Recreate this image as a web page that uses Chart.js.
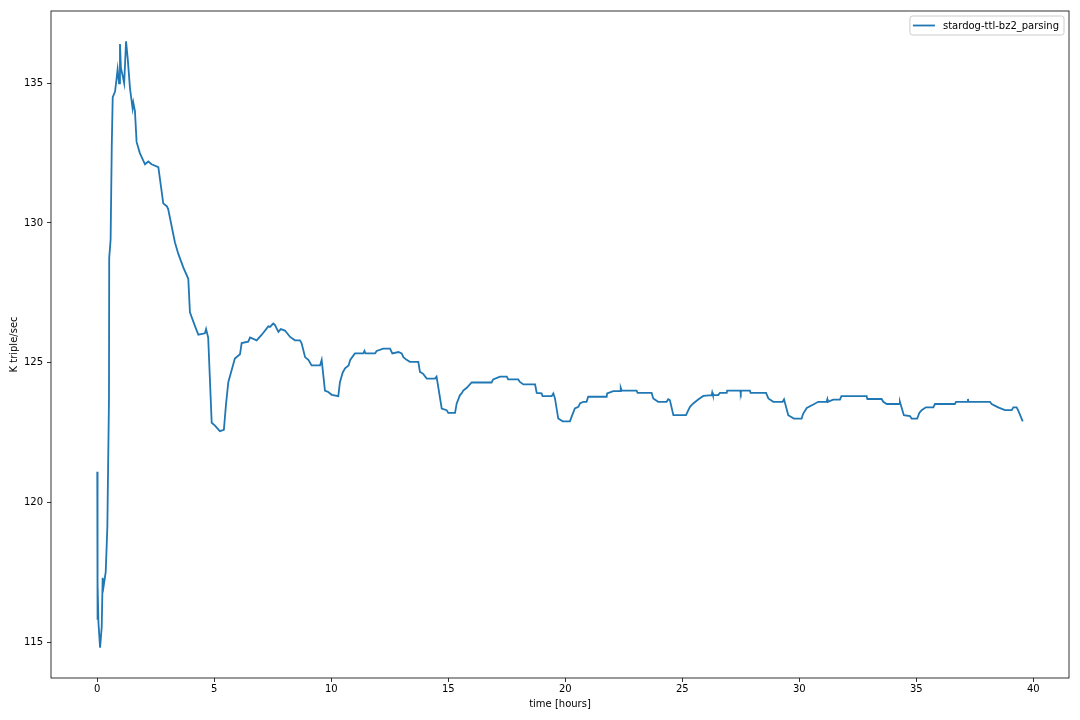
<!DOCTYPE html>
<html>
<head>
<meta charset="utf-8">
<script src="https://cdn.jsdelivr.net/npm/chart.js@4.4.1/dist/chart.umd.min.js"></script>
<style>
html, body { margin: 0; padding: 0; background: #ffffff; }
canvas { display: block; }
</style>
</head>
<body>
<canvas id="c" width="1080" height="720"></canvas>
<script>
// ---- data ----
const seriesLabel = 'stardog-ttl-bz2_parsing';
const xTitle = 'time [hours]';
const yTitle = 'K triple/sec';
const xTicks = [0, 5, 10, 15, 20, 25, 30, 35, 40];
const yTicks = [115, 120, 125, 130, 135];

const hours = [
  0, 0.005, 0.02, 0.05, 0.12, 0.19, 0.23, 0.27, 0.36, 0.43, 0.50,
  0.51, 0.57, 0.62, 0.66, 0.76, 0.83, 0.87, 0.93, 0.97, 1.01, 1.09, 1.15, 1.23,
  1.30, 1.40, 1.51, 1.54, 1.61, 1.68, 1.82, 2.04, 2.18, 2.32, 2.61, 2.82,
  2.97, 3.03, 3.32, 3.46, 3.68, 3.89, 3.96, 4.18, 4.32, 4.60, 4.65, 4.74,
  4.89, 5.03, 5.24, 5.41, 5.50, 5.60, 5.88, 6.10, 6.17, 6.45, 6.53, 6.81, 7.03, 7.31,
  7.38, 7.52, 7.59, 7.74, 7.84, 8.02, 8.24, 8.45, 8.66, 8.73, 8.88, 9.02, 9.16, 9.52,
  9.59, 9.73, 9.87, 10.02, 10.30, 10.37, 10.49, 10.59, 10.74, 10.81, 11.01, 11.37, 11.42,
  11.46, 11.87, 11.94, 12.22, 12.51, 12.61, 12.87, 13.01, 13.08, 13.22, 13.36, 13.72, 13.79,
  13.93, 14.08, 14.43, 14.50, 14.72, 14.93, 15.00, 15.29, 15.36, 15.50, 15.57, 15.64, 15.79,
  16.00, 16.85, 16.92, 17.21, 17.50, 17.56, 17.99, 18.06, 18.21, 18.71, 18.78, 18.99, 19.03,
  19.42, 19.49, 19.56, 19.70, 19.89, 20.20, 20.27, 20.41, 20.56, 20.63, 20.77, 20.91, 20.98, 21.77,
  21.79, 22.05, 22.34, 22.37, 22.41, 23.05, 23.09, 23.69, 23.76, 23.97, 24.33, 24.40, 24.47,
  24.62, 25.16, 25.26, 25.33, 25.47, 25.68, 25.90, 26.26, 26.28, 26.31, 26.54, 26.61, 26.90,
  26.92, 27.47, 27.50, 27.52, 27.89, 27.92, 28.58, 28.68, 28.89, 29.29, 29.35, 29.53, 29.77,
  30.10, 30.17, 30.32, 30.60, 30.81, 31.17, 31.20, 31.22, 31.45, 31.74, 31.80, 32.88, 32.91,
  33.52, 33.59, 33.74, 34.27, 34.30, 34.47, 34.73, 34.80, 35.04, 35.13, 35.23, 35.41, 35.73,
  35.80, 36.65, 36.70, 37.20, 37.21, 37.23, 38.15, 38.22, 38.50, 38.79, 39.08, 39.15, 39.29, 39.36,
  39.55
];

const rate = [
  121.1, 115.8, 117.1, 115.7, 114.8, 115.55, 117.3, 117.0, 117.5, 119.1, 123.7,
  128.75, 129.4, 132.8, 134.5, 134.7, 135.2, 135.5, 135.0, 136.4, 135.55, 135.25, 135.0, 136.5,
  135.9, 134.8, 134.1, 134.3, 134.0, 132.9, 132.5, 132.1, 132.2, 132.1, 132.0, 130.7,
  130.6, 130.5, 129.3, 128.9, 128.4, 128.0, 126.8, 126.3, 126.0, 126.05, 126.2, 125.9,
  122.85, 122.75, 122.55, 122.6, 123.5, 124.3, 125.15, 125.3, 125.7, 125.75, 125.9, 125.8, 126.0, 126.3,
  126.28, 126.4, 126.35, 126.1, 126.2, 126.15, 125.92, 125.8, 125.8, 125.7, 125.2, 125.1, 124.9, 124.9,
  125.1, 124.0, 123.95, 123.85, 123.8, 124.3, 124.65, 124.8, 124.9, 125.1, 125.33, 125.33, 125.42,
  125.33, 125.33, 125.42, 125.5, 125.5, 125.33, 125.38, 125.33, 125.2, 125.1, 125.03, 125.03, 124.67,
  124.6, 124.43, 124.43, 124.5, 123.36, 123.3, 123.2, 123.2, 123.54, 123.84, 123.9, 124.0, 124.1,
  124.29, 124.29, 124.4, 124.5, 124.5, 124.4, 124.4, 124.31, 124.22, 124.22, 123.92, 123.9, 123.8,
  123.8, 123.9, 123.72, 123.0, 122.9, 122.9, 123.06, 123.36, 123.42, 123.54, 123.6, 123.6, 123.78, 123.78,
  123.9, 123.98, 123.98, 124.1, 124.0, 124.0, 123.92, 123.92, 123.72, 123.6, 123.6, 123.69, 123.66,
  123.12, 123.12, 123.3, 123.42, 123.54, 123.68, 123.81, 123.84, 123.93, 123.84, 123.84, 123.92, 123.92,
  124.0, 124.0, 123.92, 124.0, 124.0, 123.92, 123.92, 123.72, 123.6, 123.6, 123.69, 123.12, 123.0,
  123.0, 123.18, 123.38, 123.5, 123.6, 123.6, 123.69, 123.6, 123.68, 123.68, 123.8, 123.8, 123.7,
  123.7, 123.6, 123.52, 123.52, 123.6, 123.12, 123.09, 123.0, 123.0, 123.2, 123.3, 123.4, 123.4,
  123.52, 123.52, 123.6, 123.6, 123.7, 123.6, 123.6, 123.52, 123.4, 123.3, 123.3, 123.4, 123.4, 123.28,
  122.9
];

// ---- derived ----
const points = hours.map((h, i) => ({ x: h, y: rate[i] }));
const xLo = Math.min(...hours), xHi = Math.max(...hours);
const yLo = Math.min(...rate), yHi = Math.max(...rate);
const xPad = (xHi - xLo) * 0.05, yPad = (yHi - yLo) * 0.05;

const FONT = 'DejaVu Sans';
const LINE_COLOR = '#1f77b4';

const framePlugin = {
  id: 'frame',
  afterDraw(chart) {
    const { ctx, chartArea: a } = chart;
    ctx.save();
    // axes box (all four spines)
    ctx.strokeStyle = '#000000';
    ctx.lineWidth = 0.8;
    ctx.strokeRect(a.left, a.top, a.right - a.left, a.bottom - a.top);

    // legend (upper right)
    const ds = chart.data.datasets[0];
    ctx.font = '10px "' + FONT + '"';
    const tw = ctx.measureText(ds.label).width;
    const fr = a.right - 5;
    const ft = a.top + 5, fb = a.top + 24;
    const textX = fr - 5 - tw;
    const lineX1 = textX - 30, lineX2 = textX - 8;
    const fl = lineX1 - 3;
    const cy = (ft + fb) / 2;
    const r = 2.5;
    ctx.beginPath();
    ctx.moveTo(fl + r, ft);
    ctx.lineTo(fr - r, ft); ctx.quadraticCurveTo(fr, ft, fr, ft + r);
    ctx.lineTo(fr, fb - r); ctx.quadraticCurveTo(fr, fb, fr - r, fb);
    ctx.lineTo(fl + r, fb); ctx.quadraticCurveTo(fl, fb, fl, fb - r);
    ctx.lineTo(fl, ft + r); ctx.quadraticCurveTo(fl, ft, fl + r, ft);
    ctx.closePath();
    ctx.fillStyle = 'rgba(255,255,255,0.8)';
    ctx.fill();
    ctx.strokeStyle = '#cccccc';
    ctx.lineWidth = 1;
    ctx.stroke();

    ctx.beginPath();
    ctx.moveTo(lineX1, cy); ctx.lineTo(lineX2, cy);
    ctx.strokeStyle = ds.borderColor;
    ctx.lineWidth = ds.borderWidth;
    ctx.stroke();

    ctx.fillStyle = '#000000';
    ctx.textBaseline = 'middle';
    ctx.textAlign = 'left';
    ctx.fillText(ds.label, textX, cy + 0.5);
    ctx.restore();
  }
};

new Chart(document.getElementById('c'), {
  type: 'line',
  data: {
    datasets: [{
      label: seriesLabel,
      data: points,
      borderColor: LINE_COLOR,
      backgroundColor: LINE_COLOR,
      borderWidth: 1.8,
      pointRadius: 0,
      pointHoverRadius: 0,
      tension: 0,
      fill: false
    }]
  },
  options: {
    responsive: false,
    animation: false,
    devicePixelRatio: 1,
    layout: { padding: { top: 11, right: 11, left: 0, bottom: 0 } },
    plugins: {
      legend: { display: false },
      tooltip: { enabled: false }
    },
    scales: {
      x: {
        type: 'linear',
        min: xLo - xPad,
        max: xHi + xPad,
        afterBuildTicks: (s) => { s.ticks = xTicks.map(v => ({ value: v })); },
        afterFit: (s) => { s.height = 42; },
        border: { display: false },
        grid: { drawOnChartArea: false, drawTicks: true, tickLength: 4, tickColor: '#000000', tickWidth: 0.8 },
        ticks: { color: '#000000', padding: 1, maxRotation: 0, font: { family: FONT, size: 10 } },
        title: { display: true, text: xTitle, color: '#000000', font: { family: FONT, size: 10 }, padding: { top: 0, bottom: 10 } }
      },
      y: {
        type: 'linear',
        min: yLo - yPad,
        max: yHi + yPad,
        afterBuildTicks: (s) => { s.ticks = yTicks.map(v => ({ value: v })); },
        afterFit: (s) => { s.width = 51; },
        border: { display: false },
        grid: { drawOnChartArea: false, drawTicks: true, tickLength: 4, tickColor: '#000000', tickWidth: 0.8 },
        ticks: { color: '#000000', padding: 4, font: { family: FONT, size: 10 } },
        title: { display: true, text: yTitle, color: '#000000', font: { family: FONT, size: 10 }, padding: { top: 8, bottom: 0 } }
      }
    }
  },
  plugins: [framePlugin]
});
</script>
</body>
</html>
